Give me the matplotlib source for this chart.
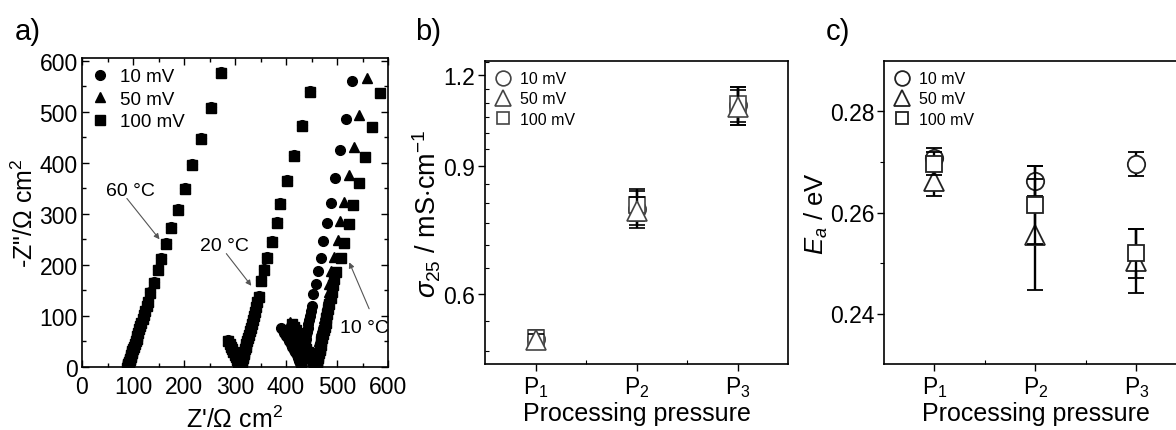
# Impedance spectra (a), conductivity (b) and activation energy (c) vs processing pressure
import matplotlib
matplotlib.use('Agg')
from matplotlib import pyplot as plt
from matplotlib.ticker import MultipleLocator, FixedLocator, NullFormatter
import numpy as np

plt.rcParams['font.family'] = ['Liberation Sans', 'DejaVu Sans']
plt.rcParams['mathtext.fontset'] = 'custom'
plt.rcParams['mathtext.rm'] = 'Liberation Sans'
plt.rcParams['mathtext.it'] = 'Liberation Sans:italic'
plt.rcParams['axes.linewidth'] = 1.2

# ---- panel a data: Nyquist plots, Z' and -Z'' in Ohm cm2 ----
# 60 C, all three amplitudes coincide
re_60 = [89, 89.5, 90, 90.5, 91, 92, 92.5, 93.5, 94.5, 95.5, 97, 98, 99, 100.5, 102, 103.5,
         105, 107, 108.5, 110.5, 112.5, 114.5, 116.5, 119, 121, 123.5, 126.5, 129,
         134, 140.5, 149, 155.5, 165, 174, 187.5, 201, 216, 233.5, 252, 272]
im_60 = [0, 1.5, 3, 5, 7, 9.5, 12, 15, 18, 21.5, 25, 29, 33, 37.5, 42, 47,
         52, 57.5, 63, 69, 75.5, 82, 89, 96.5, 104, 112, 120.5, 129,
         146, 167, 191, 214, 242, 274, 310, 350, 397, 449, 509, 578]

# 20 C, all three amplitudes coincide
re_20 = [287, 289.5, 292, 294.5, 297, 299.5, 302, 304, 306, 307.5, 309,
         310, 310.5, 311.5, 312, 313, 314, 315, 316, 317, 318.5, 319.5, 321, 322.5, 324,
         325.5, 327, 329, 331, 333, 335, 337, 339.5, 341.5, 344, 346.5,
         351, 356.5, 362, 372, 382.5, 389, 402, 416.5, 431.5, 447.5]
im_20 = [52, 47, 42, 37, 31.5, 26, 21, 16, 11, 7, 3,
         0, 2, 5, 8, 11.5, 15, 19, 23, 27.5, 32, 37, 42, 47.5, 53,
         59, 65.5, 72, 79, 86.5, 94, 102, 110.5, 119.5, 129, 139,
         170.5, 192, 215, 247.5, 283.5, 321.5, 366.5, 416, 474.5, 540.5]

# 10 C, amplitudes separate
re_10_10mV = [391, 394, 397, 400, 403, 406, 409, 412, 415, 418, 421, 423.5, 426, 428,
              429.5, 430, 430.5, 431.5, 432, 433, 434, 435, 436, 437, 438, 439, 440,
              441.5, 443, 444, 445.5, 447, 448.5, 450,
              453.5, 459, 462, 468.5, 473.5, 480.5, 488, 496.5, 506, 517.5, 529]
im_10_10mV = [77, 72, 67, 61.5, 56, 50.5, 45, 39.5, 34, 28.5, 23, 17.5, 12, 7,
              2, 5, 9, 13, 17.5, 22, 27, 32, 37.5, 43, 49, 55.5, 62,
              69, 76.5, 84, 92, 100.5, 109.5, 118.5,
              143, 163, 187, 213, 246, 282, 321.5, 370, 424, 486, 559]

re_10_50mV = [408, 411.5, 415, 418.5, 422, 425.5, 429, 432.5, 436, 439.5, 443, 446.5, 450, 453,
              456.5, 457, 457.5, 458.5, 459.5, 460, 461, 462, 463, 464.5, 465.5, 467, 468,
              469.5, 471, 472.5, 474, 476, 477.5, 479.5, 481.5, 484,
              485, 488, 493.5, 501, 506.5, 514, 524, 533.5, 543.5, 558]
im_10_50mV = [88, 82, 76, 70, 63.5, 57, 50.5, 44, 37.5, 31, 24.5, 18, 11.5, 5,
              2, 5, 9, 13, 17.5, 22, 27, 32.5, 38, 44, 50.5, 57, 64,
              71.5, 79, 87, 95.5, 104.5, 114, 124, 135, 147,
              163, 187, 215, 249.5, 285, 323, 376.5, 431, 494, 566.5]

re_10_100mV = [412, 415.5, 419, 422.5, 426, 429.5, 433, 436.5, 440, 443.5, 447, 450.5, 454, 457,
               459.5, 460, 461, 461.5, 462.5, 463.5, 464.5, 466, 467, 468, 469.5, 471, 472.5,
               474, 475.5, 477.5, 479, 481, 483, 485, 487.5, 490, 492.5, 495,
               498, 507.5, 513, 524, 530.5, 543.5, 555, 568.5, 584]
im_10_100mV = [84, 78, 72, 66, 60, 54, 48, 42, 36, 30, 24, 18, 12, 6,
               2, 5, 9, 13, 17.5, 22, 27, 32.5, 38, 44, 50.5, 57, 64,
               71.5, 79, 87, 95.5, 104.5, 114, 124, 135, 147, 160, 172,
               185.5, 213, 243, 280.5, 317.5, 361, 411, 470, 536.5]

amplitudes = ['10 mV', '50 mV', '100 mV']

# ---- panel b/c data ----
pressures = [1, 2, 3]
p_labels = ['P$_1$', 'P$_2$', 'P$_3$']

sigma_10mV = [0.520, 0.785, 1.090]
sigma_10mV_err = [0.012, 0.045, 0.065]
sigma_50mV = [0.518, 0.780, 1.085]
sigma_50mV_err = [0.010, 0.035, 0.060]
sigma_100mV = [0.522, 0.795, 1.095]
sigma_100mV_err = [0.012, 0.040, 0.060]

ea_10mV = [0.2707, 0.2662, 0.2696]
ea_10mV_err = [0.0020, 0.0030, 0.0023]
ea_50mV = [0.2663, 0.2556, 0.2504]
ea_50mV_err = [0.0030, 0.0110, 0.0063]
ea_100mV = [0.2697, 0.2615, 0.2519]
ea_100mV_err = [0.0023, 0.0078, 0.0048]

W, H = 1176, 431
fig = plt.figure(figsize=(W / 100, H / 100), dpi=100)


def px_axes(left, top, right, bottom):
    return fig.add_axes([left / W, 1 - bottom / H, (right - left) / W, (bottom - top) / H])


# ================= panel a =================
ax1 = px_axes(82, 59, 388, 368)
k = 'k'
ax1.plot(re_10_100mV, im_10_100mV, 's', color=k, ms=6.5, zorder=2)
ax1.plot(re_10_50mV, im_10_50mV, '^', color=k, ms=7.5, zorder=3)
ax1.plot(re_10_10mV, im_10_10mV, 'o', color=k, ms=7, zorder=4)
ax1.plot(re_20, [v - 2 for v in im_20], 's', color=k, ms=6.5, zorder=2)
ax1.plot(re_20, im_20, '^', color=k, ms=7.5, zorder=3)
ax1.plot(re_20, im_20, 'o', color=k, ms=7, zorder=4)
ax1.plot(re_60, [v - 2 for v in im_60], 's', color=k, ms=6.5, zorder=2)
ax1.plot(re_60, im_60, '^', color=k, ms=7.5, zorder=3)
ax1.plot(re_60, im_60, 'o', color=k, ms=7, zorder=4)

# legend handles
h1, = ax1.plot([], [], 'o', color=k, ms=7)
h2, = ax1.plot([], [], '^', color=k, ms=7.5)
h3, = ax1.plot([], [], 's', color=k, ms=6.5)
ax1.legend([h1, h2, h3], amplitudes, loc='upper left', frameon=False, fontsize=13.5,
           handlelength=0.8, handletextpad=0.7, labelspacing=0.28,
           borderaxespad=0.35, borderpad=0.2)

arrow = dict(arrowstyle='-|>', color='#555555', lw=0.8, mutation_scale=8, shrinkA=0, shrinkB=0)
ax1.text(94, 346, '60 °C', fontsize=14, ha='center', va='center')
ax1.annotate('', xy=(152, 250), xytext=(88, 330), arrowprops=arrow)
ax1.text(280, 238, '20 °C', fontsize=14, ha='center', va='center')
ax1.annotate('', xy=(332, 159), xytext=(283, 222), arrowprops=arrow)
ax1.text(553, 78, '10 °C', fontsize=14, ha='center', va='center')
ax1.annotate('', xy=(524, 205), xytext=(563, 114), arrowprops=arrow)

ax1.set_xlim(0, 600)
ax1.set_ylim(0, 605)
ax1.xaxis.set_major_locator(MultipleLocator(100))
ax1.yaxis.set_major_locator(MultipleLocator(100))
ax1.xaxis.set_minor_locator(MultipleLocator(50))
ax1.yaxis.set_minor_locator(MultipleLocator(50))
ax1.tick_params(which='both', direction='in', top=True, right=True, labelsize=16.5, width=1)
ax1.tick_params(which='major', length=5)
ax1.tick_params(axis='y', which='major', pad=3)
ax1.tick_params(axis='x', which='major', pad=6)
ax1.tick_params(which='minor', length=3)
ax1.set_xlabel("Z'/Ω cm$^2$", fontsize=18, labelpad=5)
ax1.set_ylabel('-Z"/Ω cm$^2$', fontsize=18, labelpad=1)
fig.text(28 / W, 1 - 32 / H, 'a)', fontsize=21, ha='center', va='center')

# ================= panels b and c =================
open_style = dict(mfc='white', ecolor='k', elinewidth=1.7, capsize=6, capthick=1.7, ls='none')
markers = [('o', 12.5), ('^', 14), ('s', 11)]
leg_style = dict(loc='upper left', frameon=False, fontsize=11.5, handlelength=1.0,
                 handletextpad=0.55, labelspacing=0.32, borderaxespad=0.35, borderpad=0.3,
                 markerscale=0.85)


def style_pressure_axis(ax):
    ax.set_xlim(0.5, 3.5)
    ax.set_xticks(pressures)
    ax.set_xticklabels(p_labels)
    ax.xaxis.set_minor_locator(FixedLocator([1.5, 2.5]))
    ax.tick_params(which='major', direction='out', length=5, width=1, labelsize=16.5)
    ax.tick_params(axis='x', which='major', pad=2)
    ax.tick_params(axis='y', which='major', pad=2)
    ax.tick_params(which='minor', direction='in', length=3, width=0.8)
    ax.set_xlabel('Processing pressure', fontsize=18, labelpad=2)


ax2 = px_axes(485, 62, 788, 365)
series_b = [(sigma_10mV, sigma_10mV_err), (sigma_50mV, sigma_50mV_err), (sigma_100mV, sigma_100mV_err)]
order_b = [2, 4, 3]  # triangles drawn on top of squares
handles = []
for i, (vals, errs) in enumerate(series_b):
    m, s = markers[i]
    h = ax2.errorbar(pressures, vals, yerr=errs, marker=m, ms=s, mec='#444444', mew=1.2,
                     zorder=order_b[i], **open_style)
    handles.append(h[0])
ax2.set_yscale('log')
ax2.set_ylim(0.48, 1.255)
ax2.yaxis.set_major_locator(FixedLocator([0.6, 0.9, 1.2]))
ax2.yaxis.set_minor_locator(FixedLocator([0.5, 0.55, 0.65, 0.7, 0.75, 0.8, 0.85, 0.95,
                                          1.0, 1.05, 1.1, 1.15, 1.25]))
ax2.yaxis.set_minor_formatter(NullFormatter())
ax2.set_yticklabels(['0.6', '0.9', '1.2'])
style_pressure_axis(ax2)
ax2.set_ylabel(r'$\sigma_{25}$ / mS$\cdot$cm$^{-1}$', fontsize=19.5, labelpad=0)
ax2.legend(handles, amplitudes, **leg_style)
fig.text(428 / W, 1 - 32 / H, 'b)', fontsize=21, ha='center', va='center')

ax3 = px_axes(884, 62, 1187, 365)
series_c = [(ea_10mV, ea_10mV_err), (ea_50mV, ea_50mV_err), (ea_100mV, ea_100mV_err)]
handles = []
for i, (vals, errs) in enumerate(series_c):
    m, s = markers[i]
    h = ax3.errorbar(pressures, vals, yerr=errs, marker=m, ms=s, mec='#222222', mew=1.3,
                     zorder=2 + i, **open_style)
    handles.append(h[0])
ax3.set_ylim(0.23, 0.29)
ax3.yaxis.set_major_locator(FixedLocator([0.24, 0.26, 0.28]))
ax3.yaxis.set_minor_locator(FixedLocator([0.25, 0.27]))
ax3.set_yticklabels(['0.24', '0.26', '0.28'])
style_pressure_axis(ax3)
ax3.tick_params(axis='y', which='minor', direction='out', length=3)
ax3.set_ylabel('$E_a$ / eV', fontsize=18.5, labelpad=0)
ax3.legend(handles, amplitudes, **leg_style)
fig.text(838 / W, 1 - 32 / H, 'c)', fontsize=21, ha='center', va='center')

fig.savefig('out.png', dpi=100)
